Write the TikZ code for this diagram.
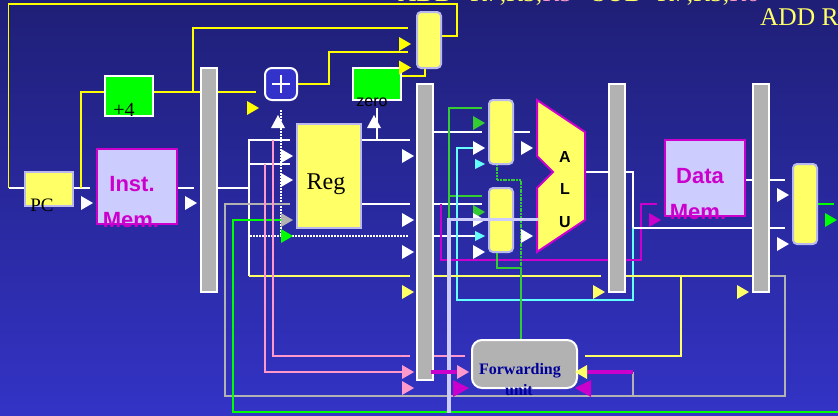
\documentclass[tikz,border=0pt]{standalone}
\usepackage{fontspec}
\setmainfont{Liberation Serif}
\setsansfont{Liberation Sans}
\definecolor{bgtop}{HTML}{1F1F77}
\definecolor{bgbot}{HTML}{3333C6}
\definecolor{yel}{HTML}{FFFF66}
\definecolor{pyel}{HTML}{FFFF00}
\definecolor{lav}{HTML}{CCCCFF}
\definecolor{bord}{HTML}{B9B9EE}
\definecolor{mag}{HTML}{CC00CC}
\definecolor{gry}{HTML}{B2B2B2}
\definecolor{grn}{HTML}{00FF00}
\definecolor{dgrn}{HTML}{33CC33}
\definecolor{cyn}{HTML}{66FFFF}
\definecolor{pnk}{HTML}{FF99CC}
\definecolor{dblue}{HTML}{000099}
\definecolor{plusb}{HTML}{3333CC}
\tikzset{
  blk/.style={rectangle,inner sep=0pt,outer sep=0pt,anchor=center},
  latch/.style={blk,fill=gry,draw=white,line width=2pt,minimum width=16pt},
  muxbox/.style={blk,fill=yel,draw=bord,line width=2pt,rounded corners=4pt,minimum width=24pt},
  greenbox/.style={blk,fill=grn,draw=white,line width=2pt},
  membox/.style={blk,fill=lav,draw=mag,line width=2pt},
  lbl/.style={inner sep=0pt,outer sep=0pt},
  memlbl/.style={lbl,text=mag,font=\sffamily\bfseries\fontsize{22}{24}\selectfont},
  alulbl/.style={lbl,text=black,font=\sffamily\bfseries\fontsize{16}{18}\selectfont},
  wire/.style={line width=1.7pt,line join=miter},
  wy/.style={wire,draw=pyel},
  wly/.style={wire,draw=yel},
  ww/.style={wire,draw=white},
  wg/.style={wire,draw=gry},
  wn/.style={wire,draw=grn},
  wd/.style={wire,draw=dgrn},
  wc/.style={wire,draw=cyn},
  wp/.style={wire,draw=pnk},
  wm/.style={wire,draw=mag},
  title/.style={lbl,anchor=base west,font=\fontsize{25.5}{27}\selectfont},
}
\newcommand{\tr}[3]{\fill[#1] (#2,#3-7) -- (#2+12,#3) -- (#2,#3+7) -- cycle;}
\newcommand{\tl}[3]{\fill[#1] (#2,#3-7) -- (#2-12,#3) -- (#2,#3+7) -- cycle;}
\newcommand{\tu}[3]{\fill[#1] (#2-7,#3) -- (#2,#3-13) -- (#2+7,#3) -- cycle;}
\begin{document}
\begin{tikzpicture}[x=1pt,y=-1pt]
\useasboundingbox (0,0) rectangle (838,415);
\clip (0,0) rectangle (838,415);
\fill[top color=bgtop,bottom color=bgbot] (0,0) rectangle (838,415);

\path
  (49,189)   coordinate (cPC)
  (129,96)   coordinate (cAdd)
  (137,186.5) coordinate (cIM)
  (209,180)  coordinate (cL1)
  (281,84)   coordinate (cPlus)
  (377,84)   coordinate (cZero)
  (329,176)  coordinate (cReg)
  (429,40)   coordinate (cMx0)
  (425,232)  coordinate (cL2)
  (501,132)  coordinate (cMx1)
  (501,220)  coordinate (cMx2)
  (617,188)  coordinate (cL3)
  (705,178)  coordinate (cDM)
  (761,188)  coordinate (cL4)
  (805,204)  coordinate (cMx3)
  (524.5,364) coordinate (cFU);

\begin{scope}[every node/.append style={draw=none,fill=none}]
\path
  node[blk,minimum width=48pt,minimum height=34pt] (pc) at (cPC) {}
  node[blk,minimum width=48pt,minimum height=40pt] (add) at (cAdd) {}
  node[blk,minimum width=80pt,minimum height=75pt] (im) at (cIM) {}
  node[blk,minimum width=16pt,minimum height=224pt] (l1) at (cL1) {}
  node[blk,minimum width=32pt,minimum height=32pt] (plus) at (cPlus) {}
  node[blk,minimum width=48pt,minimum height=32pt] (zero) at (cZero) {}
  node[blk,minimum width=64pt,minimum height=104pt] (reg) at (cReg) {}
  node[blk,minimum width=24pt,minimum height=56pt] (mx0) at (cMx0) {}
  node[blk,minimum width=16pt,minimum height=296pt] (l2) at (cL2) {}
  node[blk,minimum width=24pt,minimum height=64pt] (mx1) at (cMx1) {}
  node[blk,minimum width=24pt,minimum height=64pt] (mx2) at (cMx2) {}
  node[blk,minimum width=16pt,minimum height=208pt] (l3) at (cL3) {}
  node[blk,minimum width=80pt,minimum height=76pt] (dm) at (cDM) {}
  node[blk,minimum width=16pt,minimum height=208pt] (l4) at (cL4) {}
  node[blk,minimum width=24pt,minimum height=80pt] (mx3) at (cMx3) {}
  node[blk,minimum width=105pt,minimum height=48pt] (fu) at (cFU) {};
\end{scope}

\coordinate (aluOut) at (585,172);
\coordinate (jw) at (633,228);
\coordinate (jg) at (633,396);

\draw[wy] (mx0.east |- 0,36) -- (457,36) -- (457,4) -- (8.5,4) -- (8.5,188);
\draw[ww] (8.5,188) -- (pc.west |- 0,188);
\draw[ww] (pc.east |- 0,188) -- (90,188);
\draw[wy] (81,188) -- (81,92) -- (add.west |- 0,92);
\draw[wy] (add.east |- 0,92) -- (256,92);
\draw[wy] (193,92) -- (193,28) -- (408,28);
\draw[wy] (plus.east) -- (329,84) -- (329,52) -- (408,52);
\draw[wy] (zero.east |- 0,76) -- (425,76) -- (425,68);
\draw[ww] (im.east |- 0,188) -- (194,188);
\draw[ww] (l1.east |- 0,188) -- (249,188);
\draw[ww] (290,140) -- (249,140) -- (249,276);
\draw[ww] (249,164) -- (290,164);
\draw[wly] (249,276) -- (410,276);
\draw[ww,dash pattern=on 2pt off 1pt] (250,236) -- (408,236);
\draw[ww,dash pattern=on 2pt off 1pt] (281,110) -- (281,236);
\draw[ww] (reg.east |- 0,140) -- (410,140);
\draw[ww] (reg.east |- 0,204) -- (410,204);
\draw[ww] (377,108) -- (377,140);
\draw[wg] (290,204) -- (225,204) -- (225,396) -- (785,396) -- (785,276) -- (l4.east |- 0,276);
\draw[wg] (jg) -- (633,372);
\draw[wn] (282,220) -- (233,220) -- (233,412) -- (838,412);
\draw[wp] (265,164) -- (265,372) -- (410,372);
\draw[wp] (273,140) -- (273,356) -- (410,356);
\draw[wp] (l2.east |- 0,356) -- (465,356);
\draw[ww] (l2.east |- 0,132) -- (482,132);
\draw[ww] (mx1.east) -- (530,132);
\draw[ww] (l2.east |- 0,204) -- (482,204);
\draw[ww] (l2.east |- 0,236) -- (482,236);
\draw[wd] (482,108) -- (449,108) -- (449,220);
\draw[wd] (449,196) -- (482,196);
\draw[wc] (484,148) -- (457,148) -- (457,300) -- (633,300) -- (jw);
\draw[wm] (441,204) -- (441,260) -- (641,260) -- (641,204) -- (657,204);
\draw[wly] (l2.east |- 0,276) -- (601,276);
\draw[wly] (l3.east |- 0,276) -- (l4.west |- 0,276);
\draw[wly] (681,276) -- (681,356) -- (585,356);
\draw[wd,dash pattern=on 2pt off 0.7pt] (mx1.south -| 497,0) -- (497,180) -- (521,180) -- (521,268);
\draw[wd] (mx2.south -| 497,0) -- (497,268) -- (521,268) -- (fu.north -| 521,0);
\draw[ww] (aluOut) -- (l3.west |- aluOut);
\draw[ww] (l3.east |- aluOut) -- (633,172) -- (jw);
\draw[ww] (jw) -- (785,228);
\draw[ww] (dm.east |- 0,180) -- (785,180);
\draw[wn] (mx3.east) -- (834,204);

\node[muxbox,minimum height=56pt] at (mx0) {};
\node[greenbox,minimum width=48pt,minimum height=40pt] at (add) {};
\node[lbl,font=\fontsize{20}{22}\selectfont] (addlbl) at (124,110) {+4};
\node[muxbox,rounded corners=0pt,minimum width=48pt,minimum height=34pt] at (pc) {};
\node[lbl,font=\fontsize{19}{21}\selectfont] (pclbl) at (42,205) {PC};
\node[membox,minimum width=80pt,minimum height=75pt] at (im) {};
\node[memlbl] (iml1) at (132,184) {Inst.};
\node[memlbl] (iml2) at (131,220) {Mem.};
\node[latch,minimum height=224pt] at (l1) {};
\node[blk,fill=plusb,draw=white,line width=2pt,rounded corners=7pt,minimum width=32pt,minimum height=32pt] at (plus) {};
\draw[white,line width=1.4pt] (272,84) -- (290,84) (281,75) -- (281,93);
\node[greenbox,minimum width=48pt,minimum height=32pt] at (zero) {};
\node[lbl,font=\sffamily\fontsize{16}{18}\selectfont] (zerolbl) at (372,102) {zero};
\node[muxbox,rounded corners=0pt,minimum width=64pt,minimum height=104pt] at (reg) {};
\node[lbl,font=\fontsize{24}{26}\selectfont] (reglbl) at (326,184) {Reg};
\node[latch,minimum height=296pt] at (l2) {};
\node[muxbox,minimum height=64pt] at (mx1) {};
\node[muxbox,minimum height=64pt] at (mx2) {};
\filldraw[fill=yel,draw=mag,line width=2pt,line join=miter]
  (537,100) -- (585,132) -- (585,220) -- (537,252) -- (537,188) -- (553,172) -- (537,156) -- cycle;
\node[alulbl] (alua) at (565,157) {A};
\node[alulbl] (alul) at (565,189) {L};
\node[alulbl] (aluu) at (565,222) {U};
\node[latch,minimum height=208pt] at (l3) {};
\node[membox,minimum width=80pt,minimum height=76pt] at (dm) {};
\node[memlbl] (dml1) at (700,176) {Data};
\node[memlbl] (dml2) at (698,212) {Mem.};
\node[latch,minimum height=208pt] at (l4) {};
\node[muxbox,minimum height=80pt] at (mx3) {};
\node[blk,fill=gry,draw=white,line width=2pt,rounded corners=10pt,minimum width=105pt,minimum height=48pt] at (fu) {};
\node[lbl,text=dblue,font=\bfseries\fontsize{16}{18}\selectfont] (ful1) at (520,371) {Forwarding};
\node[lbl,text=dblue,font=\bfseries\fontsize{16}{18}\selectfont] (ful2) at (519,390) {unit};

\tr{pyel}{399}{44} \tr{pyel}{399}{67.5} \tr{pyel}{247}{108}
\tr{white}{81}{203} \tr{white}{185}{203}
\tu{white}{278}{128} \tu{white}{374}{128}
\tr{white}{281}{156} \tr{white}{281}{180} \tr{gry}{281}{220} \tr{grn}{281}{236}
\tr{white}{402}{156} \tr{white}{402}{220} \tr{white}{402}{252} \tr{yel}{402}{292}
\tr{pnk}{402}{372} \tr{pnk}{402}{388}
\tr{dgrn}{473}{123} \tr{white}{473}{148}
\fill[cyn] (475,159) -- (485,164) -- (475,169) -- cycle;
\tr{dgrn}{473}{212} \tr{white}{473}{220}
\fill[cyn] (475,231) -- (485,236) -- (475,241) -- cycle;
\tr{white}{473}{252}
\tr{white}{521}{148} \tr{white}{521}{236}
\tr{yel}{593}{292} \tr{yel}{737}{292}
\tr{mag}{649}{220}
\tr{white}{777}{195} \tr{white}{777}{244}
\tr{grn}{825}{220}

\draw[draw=lav,line width=3.5pt] (538,219.5) -- (449,219.5) -- (449,413);
\draw[draw=mag,line width=3.5pt] (431,372) -- (463,372);
\draw[draw=mag,line width=3.5pt] (585,372) -- (633,372);
\tr{pnk}{457}{372}
\tl{yel}{587}{372}
\fill[mag] (453,380) -- (469,388) -- (453,397) -- cycle;
\fill[mag] (591,380) -- (575,388) -- (591,397) -- cycle;

\node[title,text=yel] (t1) at (398,1.7) {ADD};
\node[title,text=yel] (t2) at (470,1.7) {R7,R5,\textcolor{pnk}{R5}};
\node[title,text=yel] (t3) at (592,1.7) {SUB};
\node[title,text=yel] (t4) at (657,1.7) {R7,R5,\textcolor{pnk}{R6}};
\node[title,text=yel] (t5) at (760,25) {ADD R};
\end{tikzpicture}
\end{document}
